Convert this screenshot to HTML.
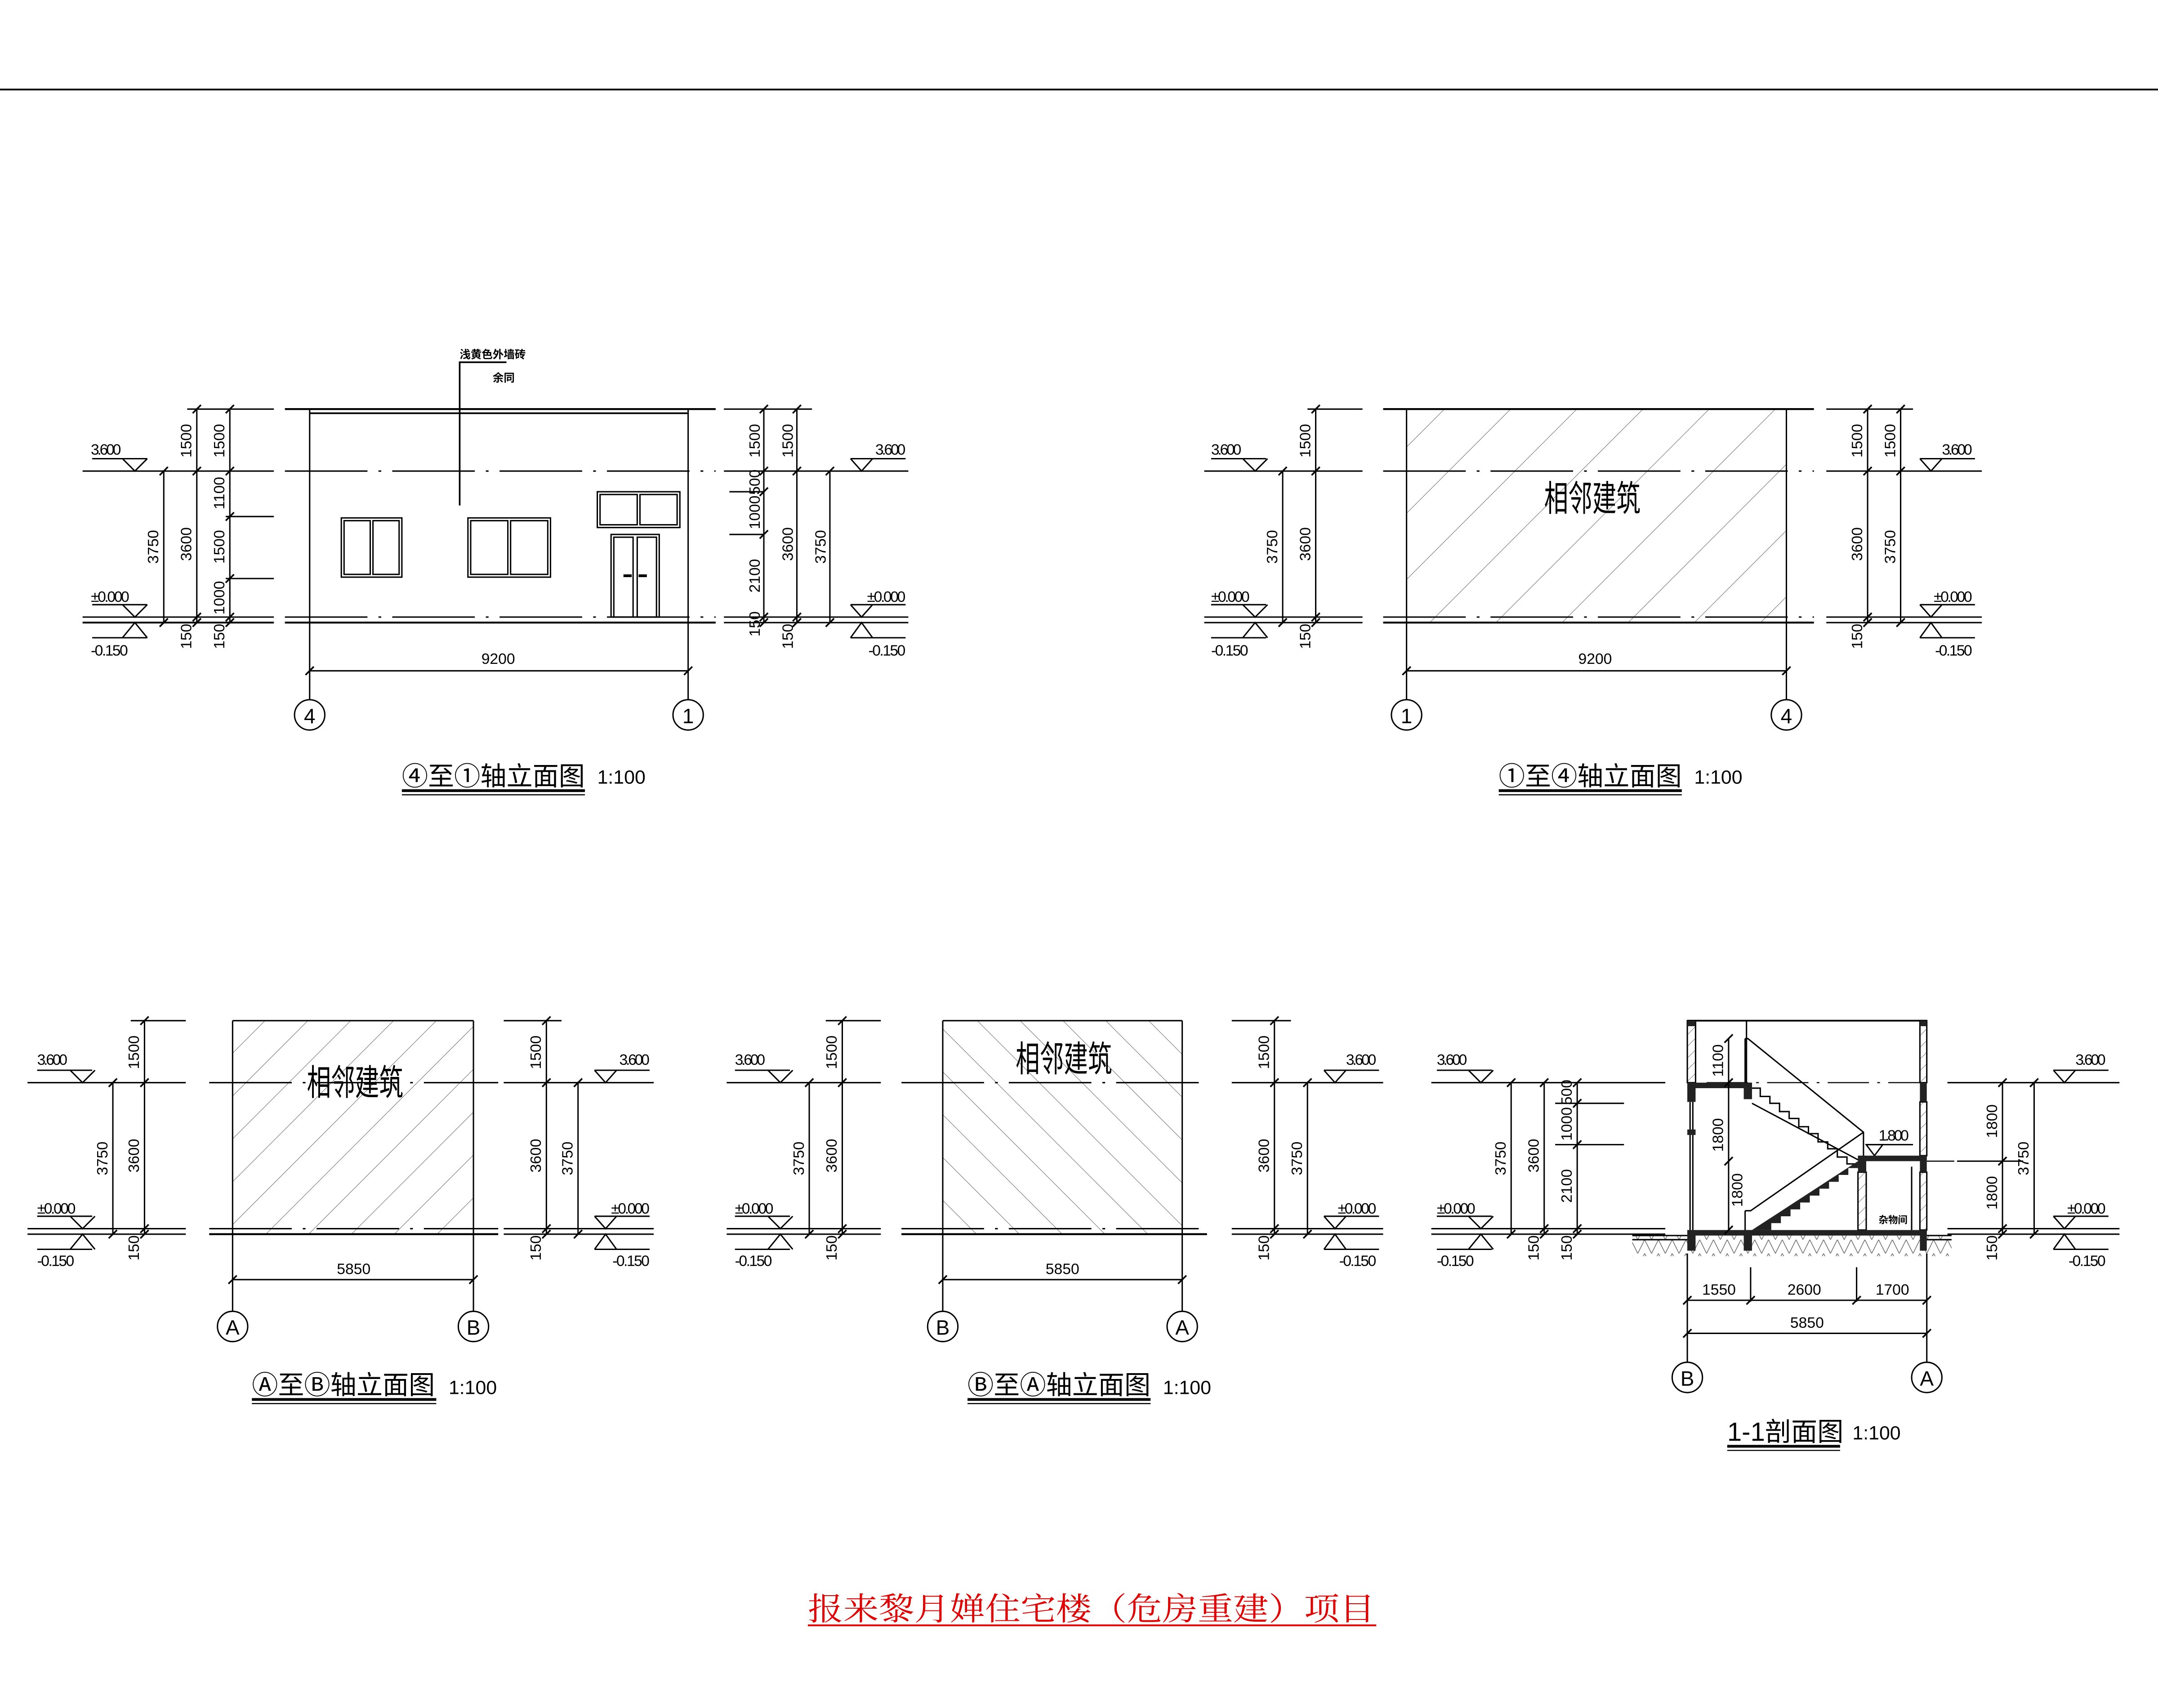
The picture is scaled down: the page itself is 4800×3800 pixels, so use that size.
<!DOCTYPE html>
<html><head><meta charset="utf-8"><style>
html,body{margin:0;padding:0;background:#fff;}
svg{display:block;}
text{font-family:"Liberation Sans","Noto Sans CJK SC",sans-serif;fill:#000;}
.d{font-size:11px;}
.cn{font-family:"Liberation Serif","Noto Serif CJK SC",serif;}
</style></head><body>
<svg width="4800" height="3800" viewBox="0 0 1568 1240" preserveAspectRatio="none" xmlns="http://www.w3.org/2000/svg">
<defs>
<marker id="t" markerUnits="userSpaceOnUse" markerWidth="8" markerHeight="8" refX="4" refY="4" orient="0"><path d="M1 7 L7 1" stroke="#000" stroke-width="1.2"/></marker>
<pattern id="h1" patternUnits="userSpaceOnUse" width="34" height="34" patternTransform="rotate(45)"><line x1="0" y1="0" x2="0" y2="34" stroke="#555" stroke-width="0.6"/></pattern>
<pattern id="h2" patternUnits="userSpaceOnUse" width="22" height="22" patternTransform="rotate(45)"><line x1="0" y1="0" x2="0" y2="22" stroke="#555" stroke-width="0.6"/></pattern>
<pattern id="h3" patternUnits="userSpaceOnUse" width="22" height="22" patternTransform="rotate(-45)"><line x1="0" y1="0" x2="0" y2="22" stroke="#555" stroke-width="0.6"/></pattern>
<pattern id="h4" patternUnits="userSpaceOnUse" width="6" height="6" patternTransform="rotate(45)"><line x1="0" y1="0" x2="0" y2="6" stroke="#444" stroke-width="0.5"/></pattern>
<pattern id="earth" patternUnits="userSpaceOnUse" width="10" height="10"><path d="M0 10 L5 0 L10 10" fill="none" stroke="#666" stroke-width="0.5"/></pattern>
</defs>
<g fill="none" stroke="#000" stroke-width="1">
<line x1="0" y1="65" x2="1568" y2="65" stroke-width="1.3"/>

<!-- ===== Drawing 1 ===== -->
<g>
<line x1="136" y1="297" x2="199" y2="297"/><line x1="207" y1="297" x2="520" y2="297" stroke-width="1.4"/>
<line x1="225" y1="300" x2="500" y2="300" stroke-width="1.2"/>
<line x1="60" y1="342" x2="199" y2="342"/><line x1="207" y1="342" x2="520" y2="342" stroke-dasharray="60 8 2 8"/>
<line x1="60" y1="448" x2="199" y2="448"/><line x1="207" y1="448" x2="520" y2="448" stroke-dasharray="60 8 2 8"/>
<line x1="60" y1="452" x2="199" y2="452" stroke-width="1.3"/><line x1="207" y1="452" x2="520" y2="452" stroke-width="1.4"/>
<line x1="164" y1="375" x2="199" y2="375"/><line x1="164" y1="420" x2="199" y2="420"/>
<line x1="225" y1="297" x2="225" y2="508"/><line x1="500" y1="297" x2="500" y2="508"/>
<polyline points="119,342 119,452" marker-start="url(#t)" marker-end="url(#t)"/>
<polyline points="143,297 143,342 143,448 143,452" marker-start="url(#t)" marker-mid="url(#t)" marker-end="url(#t)"/>
<polyline points="167,297 167,342 167,375 167,420 167,448 167,452" marker-start="url(#t)" marker-mid="url(#t)" marker-end="url(#t)"/>
<rect x="248" y="376" width="44" height="43"/><rect x="250" y="378" width="19" height="39"/><rect x="271" y="378" width="19" height="39"/>
<rect x="340" y="376" width="60" height="43"/><rect x="342" y="378" width="27" height="39"/><rect x="371" y="378" width="27" height="39"/>
<rect x="434" y="357" width="60" height="26"/><rect x="436" y="359" width="27" height="22"/><rect x="465" y="359" width="27" height="22"/>
<rect x="444" y="388" width="35" height="60"/><rect x="446" y="390" width="14" height="58"/><rect x="463" y="390" width="14" height="58"/>
<line x1="453" y1="418" x2="459" y2="418" stroke-width="2"/><line x1="464" y1="418" x2="470" y2="418" stroke-width="2"/>
<polyline points="368,263 334,263 334,367" stroke-width="1.2"/>
<line x1="526" y1="297" x2="590" y2="297"/><line x1="526" y1="342" x2="660" y2="342"/><line x1="526" y1="448" x2="660" y2="448"/><line x1="526" y1="452" x2="660" y2="452"/>
<line x1="530" y1="357" x2="555" y2="357"/><line x1="530" y1="388" x2="555" y2="388"/>
<polyline points="555,297 555,342 555,357 555,388 555,448 555,452" marker-start="url(#t)" marker-mid="url(#t)" marker-end="url(#t)"/>
<polyline points="579,297 579,342 579,448 579,452" marker-start="url(#t)" marker-mid="url(#t)" marker-end="url(#t)"/>
<polyline points="603,342 603,452" marker-start="url(#t)" marker-end="url(#t)"/>
<polyline points="225,487 500,487" marker-start="url(#t)" marker-end="url(#t)"/>
<circle cx="225" cy="519" r="11"/><circle cx="500" cy="519" r="11"/>
<line x1="292" y1="574" x2="425" y2="574" stroke-width="2"/><line x1="292" y1="577" x2="425" y2="577" stroke-width="0.8"/>
</g>

<!-- ===== Drawing 2 ===== -->
<g>
<rect x="1022" y="297" width="276" height="155" fill="url(#h1)" stroke="none"/>
<line x1="950" y1="297" x2="990" y2="297"/><line x1="1005" y1="297" x2="1318" y2="297" stroke-width="1.4"/>
<line x1="875" y1="342" x2="990" y2="342"/><line x1="1005" y1="342" x2="1318" y2="342" stroke-dasharray="60 8 2 8"/>
<line x1="875" y1="448" x2="990" y2="448"/><line x1="1005" y1="448" x2="1318" y2="448" stroke-dasharray="60 8 2 8"/>
<line x1="875" y1="452" x2="990" y2="452"/><line x1="1005" y1="452" x2="1318" y2="452" stroke-width="1.4"/>
<line x1="1022" y1="297" x2="1022" y2="508"/><line x1="1298" y1="297" x2="1298" y2="508"/>
<polyline points="932,342 932,452" marker-start="url(#t)" marker-end="url(#t)"/>
<polyline points="956,297 956,342 956,448 956,452" marker-start="url(#t)" marker-mid="url(#t)" marker-end="url(#t)"/>
<line x1="1327" y1="297" x2="1390" y2="297"/><line x1="1327" y1="342" x2="1440" y2="342"/><line x1="1327" y1="448" x2="1440" y2="448"/><line x1="1327" y1="452" x2="1440" y2="452"/>
<polyline points="1357,297 1357,342 1357,448 1357,452" marker-start="url(#t)" marker-mid="url(#t)" marker-end="url(#t)"/>
<polyline points="1381,297 1381,342 1381,452" marker-start="url(#t)" marker-mid="url(#t)" marker-end="url(#t)"/>
<polyline points="1022,487 1298,487" marker-start="url(#t)" marker-end="url(#t)"/>
<circle cx="1022" cy="519" r="11"/><circle cx="1298" cy="519" r="11"/>
<line x1="1089" y1="574" x2="1222" y2="574" stroke-width="2"/><line x1="1089" y1="577" x2="1222" y2="577" stroke-width="0.8"/>
</g>

<!-- ===== Drawing 3 ===== -->
<g>
<rect x="169" y="741" width="175" height="155" fill="url(#h2)" stroke="none"/>
<line x1="95" y1="741" x2="135" y2="741"/><line x1="169" y1="741" x2="344" y2="741"/>
<line x1="20" y1="786" x2="135" y2="786"/><line x1="152" y1="786" x2="362" y2="786" stroke-dasharray="60 8 2 8"/>
<line x1="20" y1="892" x2="135" y2="892"/><line x1="152" y1="892" x2="362" y2="892" stroke-dasharray="60 8 2 8"/>
<line x1="20" y1="896" x2="135" y2="896"/><line x1="152" y1="896" x2="362" y2="896" stroke-width="1.4"/>
<line x1="169" y1="741" x2="169" y2="952"/><line x1="344" y1="741" x2="344" y2="952"/>
<polyline points="82,786 82,896" marker-start="url(#t)" marker-end="url(#t)"/>
<polyline points="105,741 105,786 105,892 105,896" marker-start="url(#t)" marker-mid="url(#t)" marker-end="url(#t)"/>
<line x1="366" y1="741" x2="408" y2="741"/><line x1="366" y1="786" x2="475" y2="786"/><line x1="366" y1="892" x2="475" y2="892"/><line x1="366" y1="896" x2="475" y2="896"/>
<polyline points="397,741 397,786 397,892 397,896" marker-start="url(#t)" marker-mid="url(#t)" marker-end="url(#t)"/>
<polyline points="420,786 420,896" marker-start="url(#t)" marker-end="url(#t)"/>
<polyline points="169,929 344,929" marker-start="url(#t)" marker-end="url(#t)"/>
<circle cx="169" cy="963" r="11"/><circle cx="344" cy="963" r="11"/>
<line x1="183" y1="1016" x2="317" y2="1016" stroke-width="2"/><line x1="183" y1="1019" x2="317" y2="1019" stroke-width="0.8"/>
</g>

<!-- ===== Drawing 4 ===== -->
<g>
<rect x="685" y="741" width="174" height="155" fill="url(#h3)" stroke="none"/>
<line x1="600" y1="741" x2="640" y2="741"/><line x1="685" y1="741" x2="859" y2="741"/>
<line x1="528" y1="786" x2="640" y2="786"/><line x1="655" y1="786" x2="877" y2="786" stroke-dasharray="60 8 2 8"/>
<line x1="528" y1="892" x2="640" y2="892"/><line x1="655" y1="892" x2="877" y2="892" stroke-dasharray="60 8 2 8"/>
<line x1="528" y1="896" x2="640" y2="896"/><line x1="655" y1="896" x2="877" y2="896" stroke-width="1.4"/>
<line x1="685" y1="741" x2="685" y2="952"/><line x1="859" y1="741" x2="859" y2="952"/>
<polyline points="588,786 588,896" marker-start="url(#t)" marker-end="url(#t)"/>
<polyline points="612,741 612,786 612,892 612,896" marker-start="url(#t)" marker-mid="url(#t)" marker-end="url(#t)"/>
<line x1="895" y1="741" x2="938" y2="741"/><line x1="895" y1="786" x2="1005" y2="786"/><line x1="895" y1="892" x2="1005" y2="892"/><line x1="895" y1="896" x2="1005" y2="896"/>
<polyline points="926,741 926,786 926,892 926,896" marker-start="url(#t)" marker-mid="url(#t)" marker-end="url(#t)"/>
<polyline points="950,786 950,896" marker-start="url(#t)" marker-end="url(#t)"/>
<polyline points="685,929 859,929" marker-start="url(#t)" marker-end="url(#t)"/>
<circle cx="685" cy="963" r="11"/><circle cx="859" cy="963" r="11"/>
<line x1="703" y1="1016" x2="836" y2="1016" stroke-width="2"/><line x1="703" y1="1019" x2="836" y2="1019" stroke-width="0.8"/>
</g>

<!-- ===== Drawing 5: section ===== -->
<g>
<rect x="1186" y="897" width="232" height="15" fill="url(#earth)" stroke="none"/>
<line x1="1186" y1="897" x2="1226" y2="897"/><line x1="1186" y1="900" x2="1226" y2="900"/>
<line x1="1400" y1="897" x2="1418" y2="897"/><line x1="1400" y1="900" x2="1418" y2="900"/>
<line x1="1040" y1="786" x2="1210" y2="786"/><line x1="1415" y1="786" x2="1540" y2="786"/>
<line x1="1040" y1="892" x2="1210" y2="892"/><line x1="1415" y1="892" x2="1540" y2="892"/>
<line x1="1040" y1="896" x2="1210" y2="896"/><line x1="1415" y1="896" x2="1540" y2="896"/>
<line x1="1130" y1="801" x2="1180" y2="801"/><line x1="1130" y1="831" x2="1180" y2="831"/>
<line x1="1422" y1="843" x2="1470" y2="843"/>
<line x1="1240" y1="786" x2="1400" y2="786" stroke-dasharray="30 6 2 6" stroke-width="0.8"/>
<line x1="1400" y1="843" x2="1420" y2="843" stroke-dasharray="30 6 2 6" stroke-width="0.8"/>
<rect x="1226" y="741" width="6" height="45" fill="url(#h4)"/>
<rect x="1395" y="741" width="5" height="45" fill="url(#h4)"/>
<rect x="1395" y="800" width="5" height="39" fill="url(#h4)"/>
<rect x="1395" y="851" width="5" height="42" fill="url(#h4)"/>
<rect x="1350" y="851" width="6" height="42" fill="url(#h4)"/>
<line x1="1226" y1="741" x2="1400" y2="741" stroke-width="1.3"/>
<line x1="1228" y1="800" x2="1228" y2="893"/><line x1="1230" y1="800" x2="1230" y2="893"/>
<line x1="1389" y1="847" x2="1389" y2="893"/>
<line x1="1269" y1="741" x2="1269" y2="786"/><line x1="1268" y1="754" x2="1268" y2="786"/>
<line x1="1268" y1="879" x2="1268" y2="893"/>
<polyline points="1268,754 1270,754 1354,822 1354,840"/>
<polyline points="1268,879 1272,879 1354,822"/>
<line x1="1273" y1="801" x2="1350" y2="842"/>
<polyline points="1273,790 1279,790 1279,796 1286,796 1286,801 1293,801 1293,807 1300,807 1300,812 1307,812 1307,818 1314,818 1314,823 1321,823 1321,829 1328,829 1328,834 1335,834 1335,840 1342,840 1342,845 1350,845"/>
</g>
<g fill="#222" stroke="none">
<rect x="1226" y="786" width="47" height="4"/><rect x="1226" y="786" width="6" height="14"/><rect x="1267" y="786" width="6" height="12"/>
<rect x="1350" y="839" width="50" height="4"/><rect x="1350" y="839" width="6" height="12"/><rect x="1395" y="839" width="5" height="12"/>
<rect x="1395" y="786" width="5" height="14"/>
<rect x="1226" y="741" width="6" height="4"/><rect x="1395" y="741" width="5" height="4"/>
<rect x="1226" y="893" width="174" height="4"/>
<rect x="1226" y="893" width="6" height="15"/><rect x="1267" y="893" width="6" height="15"/><rect x="1395" y="893" width="5" height="15"/>
<rect x="1226" y="820" width="6" height="4"/>
<path d="M1273 893 L1350 843 L1350 848 L1343 848 L1343 853 L1336 853 L1336 858 L1329 858 L1329 863 L1322 863 L1322 868 L1315 868 L1315 873 L1308 873 L1308 878 L1301 878 L1301 883 L1294 883 L1294 888 L1287 888 L1287 893 Z"/>
</g>
<g fill="none" stroke="#000" stroke-width="1">
<polyline points="1362,839 1356,831 1368,831 1362,839"/><line x1="1356" y1="831" x2="1390" y2="831"/>
<polyline points="1256,754 1256,786 1256,843 1256,893" marker-start="url(#t)" marker-mid="url(#t)" marker-end="url(#t)"/>
<polyline points="1098,786 1098,896" marker-start="url(#t)" marker-end="url(#t)"/>
<polyline points="1122,786 1122,892 1122,896" marker-start="url(#t)" marker-mid="url(#t)" marker-end="url(#t)"/>
<polyline points="1146,786 1146,801 1146,831 1146,892 1146,896" marker-start="url(#t)" marker-mid="url(#t)" marker-end="url(#t)"/>
<polyline points="1455,786 1455,843 1455,892 1455,896" marker-start="url(#t)" marker-mid="url(#t)" marker-end="url(#t)"/>
<polyline points="1478,786 1478,896" marker-start="url(#t)" marker-end="url(#t)"/>
<line x1="1226" y1="910" x2="1226" y2="989"/><line x1="1400" y1="910" x2="1400" y2="989"/>
<line x1="1272" y1="920" x2="1272" y2="945"/><line x1="1349" y1="920" x2="1349" y2="945"/>
<polyline points="1226,944 1272,944 1349,944 1400,944" marker-start="url(#t)" marker-mid="url(#t)" marker-end="url(#t)"/>
<polyline points="1226,968 1400,968" marker-start="url(#t)" marker-end="url(#t)"/>
<circle cx="1226" cy="1000" r="11"/><circle cx="1400" cy="1000" r="11"/>
<line x1="1255" y1="1050" x2="1337" y2="1050" stroke-width="2"/><line x1="1255" y1="1053" x2="1337" y2="1053" stroke-width="0.8"/>
</g>

<g fill="none" stroke="#000" stroke-width="1">
<path d="M67 333 L107 333 M89 333 L98 342 L107 333"/>
<path d="M67 439 L107 439 M89 439 L98 448 L107 439"/>
<path d="M67 463 L107 463 M89 463 L98 452 L107 463"/>
<path d="M618 333 L658 333 M618 333 L626 342 L634 333"/>
<path d="M618 439 L658 439 M618 439 L626 448 L634 439"/>
<path d="M618 463 L658 463 M618 463 L626 452 L634 463"/>
<path d="M880 333 L920 333 M903 333 L912 342 L921 333"/>
<path d="M880 439 L920 439 M903 439 L912 448 L921 439"/>
<path d="M880 463 L920 463 M903 463 L912 452 L921 463"/>
<path d="M1395 333 L1435 333 M1395 333 L1403 342 L1411 333"/>
<path d="M1395 439 L1435 439 M1395 439 L1403 448 L1411 439"/>
<path d="M1395 463 L1435 463 M1395 463 L1403 452 L1411 463"/>
<path d="M27 777 L67 777 M51 777 L60 786 L69 777"/>
<path d="M27 883 L67 883 M51 883 L60 892 L69 883"/>
<path d="M27 907 L67 907 M51 907 L60 896 L69 907"/>
<path d="M432 777 L472 777 M432 777 L440 786 L448 777"/>
<path d="M432 883 L472 883 M432 883 L440 892 L448 883"/>
<path d="M432 907 L472 907 M432 907 L440 896 L448 907"/>
<path d="M534 777 L574 777 M558 777 L567 786 L576 777"/>
<path d="M534 883 L574 883 M558 883 L567 892 L576 883"/>
<path d="M534 907 L574 907 M558 907 L567 896 L576 907"/>
<path d="M962 777 L1002 777 M962 777 L970 786 L978 777"/>
<path d="M962 883 L1002 883 M962 883 L970 892 L978 883"/>
<path d="M962 907 L1002 907 M962 907 L970 896 L978 907"/>
<path d="M1044 777 L1084 777 M1067 777 L1076 786 L1085 777"/>
<path d="M1044 883 L1084 883 M1067 883 L1076 892 L1085 883"/>
<path d="M1044 907 L1084 907 M1067 907 L1076 896 L1085 907"/>
<path d="M1492 777 L1532 777 M1492 777 L1500 786 L1508 777"/>
<path d="M1492 883 L1532 883 M1492 883 L1500 892 L1508 883"/>
<path d="M1492 907 L1532 907 M1492 907 L1500 896 L1508 907"/>
</g>
</g>

<g class="d" style="font-size:11px">
<text x="66" y="330" textLength="22">3.600</text><text x="66" y="437" textLength="28">±0.000</text><text x="66" y="476" textLength="27">-0.150</text>
<text x="636" y="330" textLength="22">3.600</text><text x="630" y="437" textLength="28">±0.000</text><text x="631" y="476" textLength="27">-0.150</text>
<text x="880" y="330" textLength="22">3.600</text><text x="880" y="437" textLength="28">±0.000</text><text x="880" y="476" textLength="27">-0.150</text>
<text x="1411" y="330" textLength="22">3.600</text><text x="1405" y="437" textLength="28">±0.000</text><text x="1406" y="476" textLength="27">-0.150</text>
<text x="27" y="773" textLength="22">3.600</text><text x="27" y="881" textLength="28">±0.000</text><text x="27" y="919" textLength="27">-0.150</text>
<text x="450" y="773" textLength="22">3.600</text><text x="444" y="881" textLength="28">±0.000</text><text x="445" y="919" textLength="27">-0.150</text>
<text x="534" y="773" textLength="22">3.600</text><text x="534" y="881" textLength="28">±0.000</text><text x="534" y="919" textLength="27">-0.150</text>
<text x="978" y="773" textLength="22">3.600</text><text x="972" y="881" textLength="28">±0.000</text><text x="973" y="919" textLength="27">-0.150</text>
<text x="1044" y="773" textLength="22">3.600</text><text x="1044" y="881" textLength="28">±0.000</text><text x="1044" y="919" textLength="27">-0.150</text>
<text x="1508" y="773" textLength="22">3.600</text><text x="1502" y="881" textLength="28">±0.000</text><text x="1503" y="919" textLength="27">-0.150</text>
<text x="1365" y="828" textLength="22">1.800</text>
<text x="362" y="482" text-anchor="middle">9200</text>
<text x="1159" y="482" text-anchor="middle">9200</text>
<text x="257" y="925" text-anchor="middle">5850</text>
<text x="772" y="925" text-anchor="middle">5850</text>
<text x="1249" y="940" text-anchor="middle">1550</text>
<text x="1311" y="940" text-anchor="middle">2600</text>
<text x="1375" y="940" text-anchor="middle">1700</text>
<text x="1313" y="964" text-anchor="middle">5850</text>
</g>
<g style="font-size:11px" text-anchor="middle">
<text transform="translate(115,397) rotate(-90)">3750</text>
<text transform="translate(139,320) rotate(-90)">1500</text>
<text transform="translate(139,395) rotate(-90)">3600</text>
<text transform="translate(139,462) rotate(-90)">150</text>
<text transform="translate(163,320) rotate(-90)">1500</text>
<text transform="translate(163,358) rotate(-90)">1100</text>
<text transform="translate(163,397) rotate(-90)">1500</text>
<text transform="translate(163,434) rotate(-90)">1000</text>
<text transform="translate(163,462) rotate(-90)">150</text>
<text transform="translate(552,320) rotate(-90)">1500</text>
<text transform="translate(552,350) rotate(-90)">500</text>
<text transform="translate(552,372) rotate(-90)">1000</text>
<text transform="translate(552,418) rotate(-90)">2100</text>
<text transform="translate(552,453) rotate(-90)">150</text>
<text transform="translate(576,320) rotate(-90)">1500</text>
<text transform="translate(576,395) rotate(-90)">3600</text>
<text transform="translate(576,462) rotate(-90)">150</text>
<text transform="translate(600,397) rotate(-90)">3750</text>
<text transform="translate(928,397) rotate(-90)">3750</text>
<text transform="translate(952,320) rotate(-90)">1500</text>
<text transform="translate(952,395) rotate(-90)">3600</text>
<text transform="translate(952,462) rotate(-90)">150</text>
<text transform="translate(1353,320) rotate(-90)">1500</text>
<text transform="translate(1353,395) rotate(-90)">3600</text>
<text transform="translate(1353,462) rotate(-90)">150</text>
<text transform="translate(1377,320) rotate(-90)">1500</text>
<text transform="translate(1377,397) rotate(-90)">3750</text>

<text transform="translate(78,841) rotate(-90)">3750</text>
<text transform="translate(101,764) rotate(-90)">1500</text>
<text transform="translate(101,839) rotate(-90)">3600</text>
<text transform="translate(101,906) rotate(-90)">150</text>
<text transform="translate(393,764) rotate(-90)">1500</text>
<text transform="translate(393,839) rotate(-90)">3600</text>
<text transform="translate(393,906) rotate(-90)">150</text>
<text transform="translate(416,841) rotate(-90)">3750</text>

<text transform="translate(584,841) rotate(-90)">3750</text>
<text transform="translate(608,764) rotate(-90)">1500</text>
<text transform="translate(608,839) rotate(-90)">3600</text>
<text transform="translate(608,906) rotate(-90)">150</text>
<text transform="translate(922,764) rotate(-90)">1500</text>
<text transform="translate(922,839) rotate(-90)">3600</text>
<text transform="translate(922,906) rotate(-90)">150</text>
<text transform="translate(946,841) rotate(-90)">3750</text>

<text transform="translate(1094,841) rotate(-90)">3750</text>
<text transform="translate(1118,839) rotate(-90)">3600</text>
<text transform="translate(1118,906) rotate(-90)">150</text>
<text transform="translate(1142,793) rotate(-90)">500</text>
<text transform="translate(1142,816) rotate(-90)">1000</text>
<text transform="translate(1142,861) rotate(-90)">2100</text>
<text transform="translate(1142,906) rotate(-90)">150</text>
<text transform="translate(1252,770) rotate(-90)">1100</text>
<text transform="translate(1252,824) rotate(-90)">1800</text>
<text transform="translate(1266,864) rotate(-90)">1800</text>
<text transform="translate(1451,814) rotate(-90)">1800</text>
<text transform="translate(1451,866) rotate(-90)">1800</text>
<text transform="translate(1451,906) rotate(-90)">150</text>
<text transform="translate(1474,841) rotate(-90)">3750</text>
</g>
<g style="font-size:15px" text-anchor="middle" class="cn">
<text x="225" y="525">4</text><text x="500" y="525">1</text>
<text x="1022" y="525">1</text><text x="1298" y="525">4</text>
<text x="169" y="969">A</text><text x="344" y="969">B</text>
<text x="685" y="969">B</text><text x="859" y="969">A</text>
<text x="1226" y="1006">B</text><text x="1400" y="1006">A</text>
</g>
<g style="font-size:26px" text-anchor="middle">
<text x="1157" y="371" textLength="70" lengthAdjust="spacingAndGlyphs">相邻建筑</text>
<text x="258" y="795" textLength="70" lengthAdjust="spacingAndGlyphs">相邻建筑</text>
<text x="773" y="778" textLength="70" lengthAdjust="spacingAndGlyphs">相邻建筑</text>
</g>
<g style="font-size:8px;font-weight:bold">
<text x="334" y="260">浅黄色外墙砖</text><text x="358" y="277">余同</text>
<text x="1365" y="888" style="font-size:7px">杂物间</text>
</g>
<g class="cn" style="font-size:19px">
<text x="292" y="570">④至①轴立面图</text><text x="434" y="569" style="font-size:14px">1:100</text>
<text x="1089" y="570">①至④轴立面图</text><text x="1231" y="569" style="font-size:14px">1:100</text>
<text x="183" y="1012">Ⓐ至Ⓑ轴立面图</text><text x="326" y="1012" style="font-size:14px">1:100</text>
<text x="703" y="1012">Ⓑ至Ⓐ轴立面图</text><text x="845" y="1012" style="font-size:14px">1:100</text>
<text x="1255" y="1046">1-1剖面图</text><text x="1346" y="1045" style="font-size:14px">1:100</text>
</g>
<text x="793" y="1176" text-anchor="middle" class="cn" style="font-size:23px;fill:#e00000" textLength="412" lengthAdjust="spacingAndGlyphs">报来黎月婵住宅楼（危房重建）项目</text>
<line x1="587" y1="1180" x2="1000" y2="1180" stroke="#e00000" stroke-width="1.3"/>
</svg>
</body></html>
